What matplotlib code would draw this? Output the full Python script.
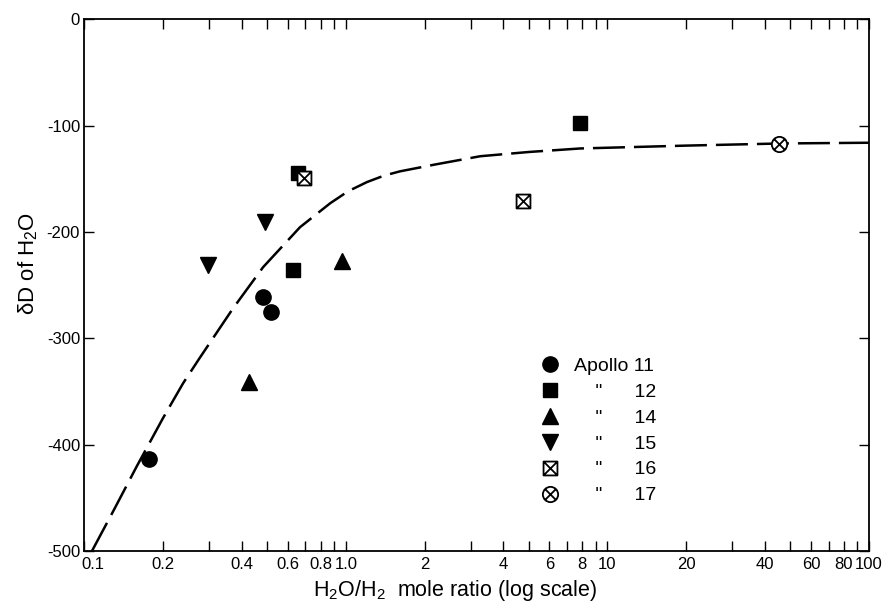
import numpy as np
import matplotlib.pyplot as plt
import matplotlib.transforms as mtransforms
from matplotlib.path import Path
from matplotlib.ticker import FixedLocator, FixedFormatter

plt.rcParams['font.family'] = ['Liberation Sans', 'DejaVu Sans']
plt.rcParams['mathtext.default'] = 'regular'
plt.rcParams['axes.unicode_minus'] = False

# measured points, H2O/H2 mole ratio vs dD of H2O
a11_x = [0.177, 0.482, 0.517]
a11_y = [-413, -261, -275]
a12_x = [0.658, 0.626, 7.83]
a12_y = [-145, -236, -98]
a14_x = [0.425, 0.969]
a14_y = [-341, -227]
a15_x = [0.297, 0.489]
a15_y = [-231, -191]
a16_x = [0.692, 4.74]
a16_y = [-149, -171]
a17_x = [45.2]
a17_y = [-117]

# dashed curve
curve_x = [0.107, 0.13, 0.159, 0.2, 0.239, 0.277, 0.37, 0.483, 0.668, 0.871,
           1.02, 1.206, 1.4, 1.61, 2.2, 3.26, 5.0, 7.85, 20, 45.7, 100]
curve_y = [-500, -461, -420, -375, -342, -318, -272, -233, -195.5, -173,
           -161.7, -153, -147, -143, -136.5, -128.8, -124.8, -121.5, -118.8,
           -116.8, -116.1]

xtick_vals = [0.1, 0.2, 0.4, 0.6, 0.8, 1.0, 2, 4, 6, 8, 10, 20, 40, 60, 80, 100]
xtick_labels = ['0.1', '0.2', '0.4', '0.6', '0.8', '1.0', '2', '4', '6', '8',
                '10', '20', '40', '60', '80', '100']
xminor_vals = [0.3, 0.5, 0.7, 0.9, 3, 5, 7, 9, 30, 50, 70, 90]
ytick_vals = [0, -100, -200, -300, -400, -500]

labels = ['Apollo 11', '    "      12', '    "      14', '    "      15',
          '    "      16', '    "      17']


def boxed_x():
    verts = [(-1, -1), (1, -1), (1, 1), (-1, 1), (-1, -1),
             (-1, -1), (1, 1), (-1, 1), (1, -1)]
    codes = [Path.MOVETO, Path.LINETO, Path.LINETO, Path.LINETO, Path.CLOSEPOLY,
             Path.MOVETO, Path.LINETO, Path.MOVETO, Path.LINETO]
    return Path(verts, codes)


def circled_x():
    c = Path.unit_circle()
    d = 0.707
    diag = Path([(-d, -d), (d, d), (-d, d), (d, -d)],
                [Path.MOVETO, Path.LINETO, Path.MOVETO, Path.LINETO])
    return Path.make_compound_path(c, diag)


fig = plt.figure(figsize=(8.96, 6.01), dpi=100)
ax = fig.add_axes([0.094, 0.083, 0.876, 0.885])

ax.plot(curve_x, curve_y, color='black', lw=1.8, dashes=(12.8, 3.6), zorder=1)

ms_kw = dict(linestyle='none', color='black', zorder=3)
h11, = ax.plot(a11_x, a11_y, marker='o', ms=11, **ms_kw)
h12, = ax.plot(a12_x, a12_y, marker='s', ms=10, **ms_kw)
h14, = ax.plot(a14_x, a14_y, marker='^', ms=12, **ms_kw)
h15, = ax.plot(a15_x, a15_y, marker='v', ms=12, **ms_kw)
h16, = ax.plot(a16_x, a16_y, marker=boxed_x(), ms=10, mfc='white', mec='black',
               mew=1.3, **ms_kw)
h17, = ax.plot(a17_x, a17_y, marker=circled_x(), ms=11, mfc='white', mec='black',
               mew=1.3, **ms_kw)

ax.set_xscale('log')
ax.set_xlim(0.1, 100)
ax.set_ylim(-500, 0)

ax.xaxis.set_major_locator(FixedLocator(xtick_vals))
ax.xaxis.set_major_formatter(FixedFormatter(xtick_labels))
ax.xaxis.set_minor_locator(FixedLocator(xminor_vals))
ax.xaxis.set_minor_formatter(FixedFormatter([''] * len(xminor_vals)))
ax.set_yticks(ytick_vals)
ax.set_yticklabels([str(v) for v in ytick_vals])

ax.tick_params(which='both', direction='in', length=7, width=1,
               top=True, right=True, labelsize=12, pad=3)
ax.tick_params(axis='x', pad=4)
for s in ax.spines.values():
    s.set_linewidth(1.3)

# "0.1" sits a little right of its tick so it clears "-500"
first = ax.xaxis.get_major_ticks()[0].label1
first.set_horizontalalignment('left')
first.set_transform(first.get_transform() +
                    mtransforms.ScaledTranslation(-2 / 72, 0, fig.dpi_scale_trans))

ax.set_xlabel('H$_2$O/H$_2$  mole ratio (log scale)', fontsize=15.5)
ax.xaxis.set_label_coords(0.473, -0.05)
ax.set_ylabel(r'$\delta$D of H$_2$O', fontsize=16)
ax.yaxis.set_label_coords(-0.056, 0.54)

ax.legend([h11, h12, h14, h15, h16, h17], labels, loc='upper left',
          bbox_to_anchor=(0.581, 0.365), frameon=False, fontsize=14,
          handlelength=1.0, handletextpad=0.73, labelspacing=0.43,
          borderpad=0, borderaxespad=0)

fig.savefig('out.png', dpi=100)
